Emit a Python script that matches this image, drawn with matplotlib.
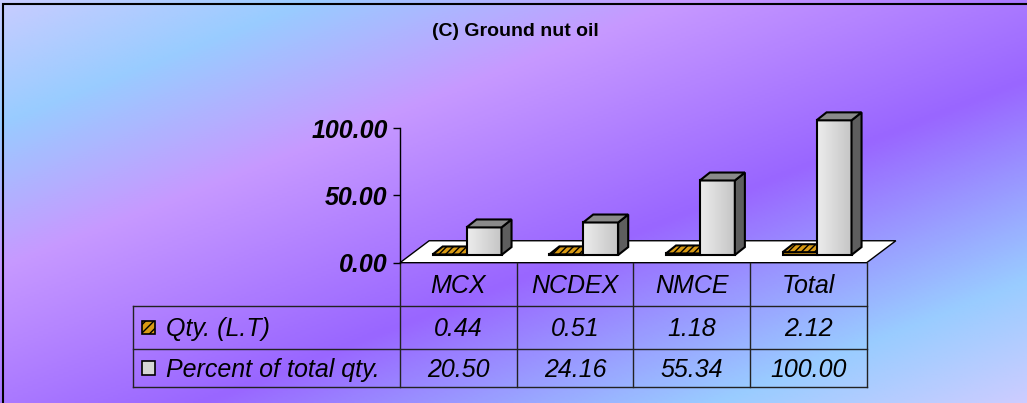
import numpy as np
import matplotlib
matplotlib.use("Agg")
import matplotlib.pyplot as plt
from matplotlib.colors import LinearSegmentedColormap
from matplotlib.patches import Polygon, Rectangle
from matplotlib import transforms

plt.rcParams['font.family'] = ['Liberation Sans', 'DejaVu Sans']

# data
categories = ['MCX', 'NCDEX', 'NMCE', 'Total']
qty = [0.44, 0.51, 1.18, 2.12]
pct = [20.50, 24.16, 55.34, 100.00]
series_names = ['Qty. (L.T)', 'Percent of total qty.']
yticks = [0, 50, 100]
title = '(C) Ground nut oil'

W, H = 1027, 403
fig = plt.figure(figsize=(W / 100, H / 100), dpi=100)

# background gradient (diagonal)
bg = fig.add_axes([0, 0, 1, 1])
bg.set_axis_off()
stops = [(0.0, '#c8ccff'), (0.15, '#99ccff'), (0.33, '#c799ff'),
         (0.6, '#9966ff'), (0.85, '#99ccff'), (1.0, '#ccccff')]
bgcmap = LinearSegmentedColormap.from_list('bg', stops)
u = np.linspace(0, 1, 400)
v = np.linspace(0, 1, 200)
U, V = np.meshgrid(u, v)
bg.imshow((U + V) / 2, cmap=bgcmap, vmin=0, vmax=1, aspect='auto',
          extent=[0, 1, 1, 0])
bg.set_xlim(0, 1)
bg.set_ylim(1, 0)

# main axes in category / value units
X0, CAT = 400, 116.67      # px of category 0, px per category
Y0, UNIT = 262.7, 1.347    # px of value 0, px per value unit
ax = fig.add_axes([0, 0, 1, 1])
ax.patch.set_alpha(0)

# floor
fdx, fdy = 0.25, 16.3
n = len(categories)
floor = Polygon([(0, 0), (n, 0), (n + fdx, fdy), (fdx, fdy)], closed=True,
                facecolor='white', edgecolor='black', lw=1, zorder=1)
ax.add_patch(floor)

# bars
base = 5.7
bw = 0.30
dx, dy = 0.086, 5.9
offs = [0.28, 0.57]
graycmap = LinearSegmentedColormap.from_list('g', ['#ececec', '#c4c4c4'])
orangecmap = LinearSegmentedColormap.from_list('o', ['#c98a08', '#e0a52a'])
z = 2
for i in range(n):
    for s, vals in enumerate([qty, pct]):
        l = i + offs[s]
        r = l + bw
        t = base + vals[i]
        if s == 0:
            top_c, side_c, cm = '#d99a14', '#9a6a05', orangecmap
        else:
            top_c, side_c, cm = '#8a8a8a', '#5e5e5e', graycmap
        ax.imshow(np.linspace(0, 1, 32).reshape(1, -1), cmap=cm,
                  extent=[l, r, base, t], aspect='auto', zorder=z)
        front = Polygon([(l, base), (r, base), (r, t), (l, t)],
                        fill=False, edgecolor='black', lw=1.5, zorder=z + 0.1)
        side = Polygon([(r, base), (r + dx, base + dy), (r + dx, t + dy), (r, t)],
                       facecolor=side_c, edgecolor='black', lw=1.5, zorder=z + 0.1)
        top = Polygon([(l, t), (r, t), (r + dx, t + dy), (l + dx, t + dy)],
                      facecolor=top_c, edgecolor='black', lw=1.5, zorder=z + 0.1,
                      hatch='/////' if s == 0 else None)
        ax.add_patch(front)
        ax.add_patch(side)
        ax.add_patch(top)
        z += 1

ax.set_xlim(-X0 / CAT, (W - X0) / CAT)
ax.set_ylim(-(H - Y0) / UNIT, Y0 / UNIT)

# value axis
for sp in ['top', 'right', 'bottom']:
    ax.spines[sp].set_visible(False)
ax.spines['left'].set_position(('data', 0))
ax.spines['left'].set_bounds(0, 100)
ax.spines['left'].set_linewidth(1)
ax.set_xticks([])
ax.set_yticks(yticks)
ax.set_yticklabels(['%.2f' % t for t in yticks], fontsize=18,
                   fontweight='bold', fontstyle='italic')
ax.tick_params(axis='y', length=5, width=1, pad=4)

# data table
tr = transforms.blended_transform_factory(ax.transData, fig.transFigure)
row_y = [1 - 262.7 / H, 1 - 306 / H, 1 - 348.7 / H, 1 - 387.3 / H]
lab_x = (133 - X0) / CAT
lc = '#222222'
for yy in row_y[1:]:
    ax.plot([lab_x, n], [yy, yy], color=lc, lw=1, transform=tr, clip_on=False)
ax.plot([lab_x, lab_x], [row_y[3], row_y[1]], color=lc, lw=1, transform=tr)
for k in range(n + 1):
    ax.plot([k, k], [row_y[3], row_y[0]], color=lc, lw=1, transform=tr)

tkw = dict(fontsize=18, fontstyle='italic', ha='center', va='center', transform=tr)
for i, c in enumerate(categories):
    ax.text(i + 0.5, (row_y[0] + row_y[1]) / 2 - 0.005, c, **tkw)
    ax.text(i + 0.5, (row_y[1] + row_y[2]) / 2 - 0.005, '%.2f' % qty[i], **tkw)
    ax.text(i + 0.5, (row_y[2] + row_y[3]) / 2 - 0.005, '%.2f' % pct[i], **tkw)

key_x = (141.5 - X0) / CAT
key_w = 13.5 / CAT
key_h = 13.5 / H
for s, name in enumerate(series_names):
    yc = (row_y[s + 1] + row_y[s + 2]) / 2
    if s == 0:
        key = Rectangle((key_x, yc - key_h / 2), key_w, key_h, transform=tr,
                        facecolor='#d99a14', edgecolor='black', lw=1.2,
                        hatch='////')
    else:
        key = Rectangle((key_x, yc - key_h / 2), key_w, key_h, transform=tr,
                        facecolor='#d6d6d6', edgecolor='black', lw=1.2)
    ax.add_patch(key)
    ax.text((166 - X0) / CAT, yc - 0.005, name, fontsize=18, fontstyle='italic',
            ha='left', va='center', transform=tr)

# title and frame (right and bottom edges fall outside the picture)
fig.text(515 / W, 1 - 31 / H, title, fontsize=14, fontweight='bold',
         ha='center', va='center')
fig.patches.append(Rectangle((3 / W, -5 / H), 1040 / W, 404 / H,
                             transform=fig.transFigure, fill=False,
                             edgecolor='black', lw=1.5))

fig.savefig('out.png', dpi=100)
